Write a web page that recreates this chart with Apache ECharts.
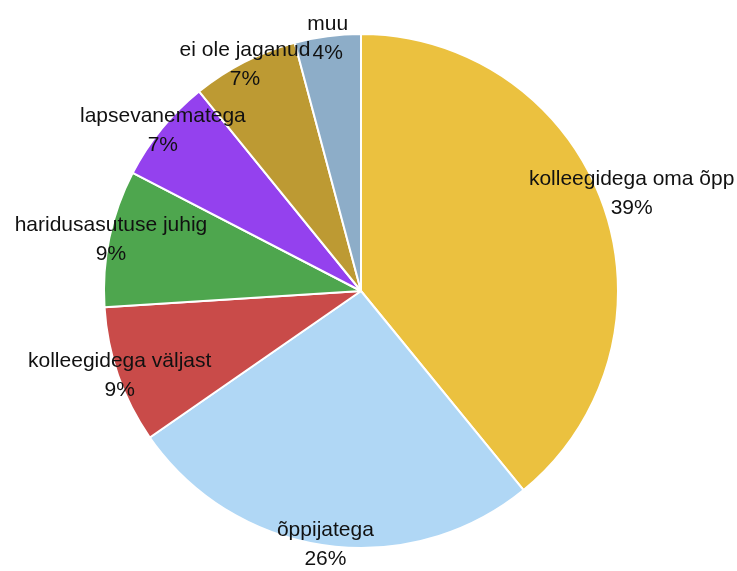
<!DOCTYPE html>
<html>
<head>
<meta charset="utf-8">
<script src="https://cdn.jsdelivr.net/npm/echarts@6/dist/echarts.min.js"></script>
<style>
  html, body { margin: 0; padding: 0; background: #fff; }
  #chart { width: 737px; height: 571px; }
</style>
</head>
<body>
<div id="chart"></div>
<script>
// kategooriad (nimed lühendatud 20 märgini nagu originaalis)
const categories = [
  'kolleegidega oma õpp',
  'õppijatega',
  'kolleegidega väljast',
  'haridusasutuse juhig',
  'lapsevanematega',
  'ei ole jaganud',
  'muu'
];
// osakaalud (%), loetud sektorite nurkadest
const shares = [39.1, 26.25, 8.65, 8.6, 6.55, 6.7, 4.15];
const colors = ['#EBC13F', '#B0D7F5', '#C94B49', '#4EA64E', '#9441EE', '#BD9A33', '#8DADC8'];

const CENTER = [361, 291];
const RADIUS = 257;
const LABEL_RADIUS = 252.5;

function $each(arr, fn){
  for(let i = 0; i < arr.length; i++){ fn(i, arr[i]); }
}

let pieData = [];
let labelData = [];
$each(categories, function(index, val){
  pieData.push({ name: val, value: shares[index], itemStyle: { color: colors[index] } });
  let item = { name: val, value: shares[index] };
  if(index == 0){
    // esimene silt on originaalis kaugemal
    item.label = { offset: [30, -12] };
  }
  labelData.push(item);
});

let myChart = echarts.init(document.getElementById('chart'));
let option = {
  animation: false,
  series: [
    {
      type: 'pie',
      center: CENTER,
      radius: RADIUS,
      startAngle: 90,
      clockwise: true,
      silent: true,
      label: { show: false },
      labelLine: { show: false },
      itemStyle: { borderColor: '#fff', borderWidth: 2 },
      data: pieData
    },
    {
      // läbipaistev kiht ainult siltide jaoks
      type: 'pie',
      center: CENTER,
      radius: [LABEL_RADIUS - 10, LABEL_RADIUS + 10],
      startAngle: 90,
      clockwise: true,
      silent: true,
      avoidLabelOverlap: false,
      labelLayout: { hideOverlap: false },
      itemStyle: { color: 'rgba(0,0,0,0)', borderWidth: 0 },
      label: {
        show: true,
        position: 'inside',
        color: '#111',
        fontFamily: 'Liberation Sans, Arial, sans-serif',
        fontSize: 21,
        lineHeight: 29,
        align: 'center',
        offset: [0, 1],
        formatter: function(p){
          return p.name + '\n' + Math.round(p.percent) + '%';
        }
      },
      labelLine: { show: false },
      data: labelData
    }
  ]
};
myChart.setOption(option);
</script>
</body>
</html>
